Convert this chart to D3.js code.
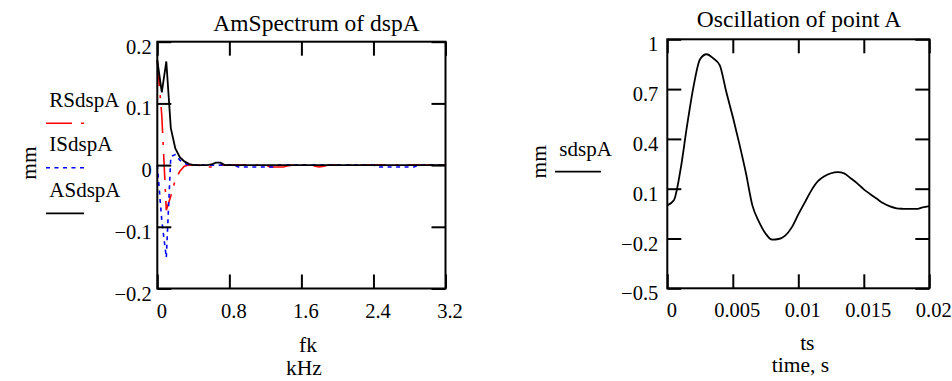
<!DOCTYPE html>
<html>
<head>
<meta charset="utf-8">
<script src="https://cdn.jsdelivr.net/npm/d3@7"></script>
<style>
  body { margin: 0; background: #fff; }
  svg { display: block; }
</style>
</head>
<body>
<svg id="chart" width="952" height="381"></svg>
<script>
// spectrum, 50 Hz steps
const fk = [0, 0.05, 0.1, 0.15, 0.2, 0.25, 0.3, 0.35, 0.4, 0.45, 0.5, 0.55, 0.6, 0.65, 0.7, 0.75,
  0.8, 0.85, 0.9, 0.95, 1, 1.05, 1.1, 1.15, 1.2, 1.25, 1.3, 1.35, 1.4, 1.45, 1.5, 1.55,
  1.6, 1.65, 1.7, 1.75, 1.8, 1.85, 1.9, 1.95, 2, 2.05, 2.1, 2.15, 2.2, 2.25, 2.3, 2.35,
  2.4, 2.45, 2.5, 2.55, 2.6, 2.65, 2.7, 2.75, 2.8, 2.85, 2.9, 2.95, 3, 3.05, 3.1, 3.15, 3.2];
const RSdspA = [0.17, 0.08, -0.073, -0.05, -0.024, -0.01, -0.002, 0, 0, 0, -0.001, -0.003, -0.003, -0.003, 0, 0,
  0, 0, 0, 0, 0, 0, 0, 0, 0, -0.003, -0.003, -0.003, -0.003, -0.001, 0, 0,
  0, 0, 0, -0.002, -0.003, -0.002, 0, 0, 0, 0, 0, 0, 0, 0, 0, 0,
  0, 0, 0, 0, 0, 0, 0, 0, 0, 0, 0, 0, 0, 0, 0, 0, 0];
const ISdspA = [0, -0.09, -0.15, 0.014, 0.017, 0.008, 0.003, 0, 0, 0, 0, 0, 0, 0, 0, 0,
  0, 0, -0.003, -0.003, -0.003, -0.003, -0.003, -0.003, -0.003, -0.003, -0.003, 0, 0, 0, 0, 0,
  0, 0, 0, 0, 0, 0, 0, 0, 0, 0, 0, 0, 0, 0, 0, 0,
  0, -0.003, -0.003, -0.003, -0.003, -0.003, -0.003, -0.003, -0.003, -0.003, 0, 0, 0, 0, 0, 0, 0];
const ASdspA = [0.17, 0.118, 0.168, 0.06, 0.027, 0.013, 0.006, 0.002, 0, 0, 0, 0, 0.001, 0.004, 0.004, 0,
  0, 0, 0, 0, 0, 0, 0, 0, 0, 0, 0, 0, 0, 0, 0, 0,
  0, 0, 0, 0, 0, 0, 0, 0, 0, 0, 0, 0, 0, 0, 0, 0,
  0, 0, 0, 0, 0, 0, 0, 0, 0, 0, 0, 0, 0, 0, 0, 0, 0];
const fkTicks = [0, 0.8, 1.6, 2.4, 3.2];
const specTicks = [-0.2, -0.1, 0, 0.1, 0.2];

// oscillation
const ts = [0, 0.0005, 0.001, 0.0015, 0.002, 0.0025, 0.003, 0.0035, 0.004, 0.0045, 0.005,
  0.0055, 0.006, 0.0065, 0.007, 0.0075, 0.008, 0.0085, 0.009, 0.0095, 0.01,
  0.0105, 0.011, 0.0115, 0.012, 0.0125, 0.013, 0.0135, 0.014, 0.0145, 0.015,
  0.0155, 0.016, 0.0165, 0.017, 0.0175, 0.018, 0.0185, 0.019, 0.0195, 0.02];
const sdspA = [0, 0.03, 0.21, 0.475, 0.715, 0.88, 0.91, 0.886, 0.845, 0.684, 0.533,
  0.37, 0.195, -0.002, -0.1, -0.17, -0.207, -0.203, -0.183, -0.133, -0.055,
  0.018, 0.09, 0.145, 0.175, 0.193, 0.2, 0.192, 0.163, 0.132, 0.096,
  0.067, 0.039, 0.012, -0.007, -0.018, -0.021, -0.022, -0.022, -0.012, -0.005];
const tsTicks = [0, 0.005, 0.01, 0.015, 0.02];
const sdspTicks = [-0.5, -0.2, 0.1, 0.4, 0.7, 1];

const serif = '"Liberation Serif"';
const svg = d3.select("#chart").attr("font-family", serif);
const fmt = d => String(d).replace("-", "\u2212");

function drawFrame(x, y, xTicks, yTicks, labelGap, xLabelY) {
  const [x0, x1] = x.range();
  const [y0, y1] = y.range();
  const g = svg.append("g");

  g.append("g").attr("transform", `translate(0,${y0})`)
    .call(d3.axisBottom(x).tickValues(xTicks).tickSize(-14).tickFormat(fmt))
    .call(a => a.selectAll("text").attr("y", xLabelY).attr("dy", null).attr("dx", 4));
  g.append("g").attr("transform", `translate(0,${y1})`)
    .call(d3.axisTop(x).tickValues(xTicks).tickSize(-14).tickFormat(""));
  g.append("g").attr("transform", `translate(${x0},0)`)
    .call(d3.axisLeft(y).tickValues(yTicks).tickSize(-14).tickFormat(fmt))
    .call(a => a.selectAll("text").attr("x", -labelGap).attr("dy", 11.5));
  g.append("g").attr("transform", `translate(${x1},0)`)
    .call(d3.axisRight(y).tickValues(yTicks).tickSize(-14).tickFormat(""));

  g.selectAll(".domain").remove();
  g.selectAll("g").attr("font-family", serif).attr("font-size", 20.5);
  g.selectAll(".tick line").attr("stroke", "#000").attr("stroke-width", 2);
  g.selectAll(".tick text").attr("fill", "#000").attr("font-family", serif);

  g.append("rect")
    .attr("x", x0).attr("y", y1)
    .attr("width", x1 - x0).attr("height", y0 - y1)
    .attr("fill", "none").attr("stroke", "#000").attr("stroke-width", 2);
}

function label(txt, x, y, size, anchor, rotate) {
  const t = svg.append("text")
    .attr("font-family", serif)
    .attr("font-size", size)
    .attr("text-anchor", anchor || "middle")
    .attr("fill", "#000")
    .text(txt);
  if (rotate) t.attr("transform", `translate(${x},${y}) rotate(-90)`);
  else t.attr("x", x).attr("y", y);
}

// ---- left: AmSpectrum of dspA ----
const xS = d3.scaleLinear().domain([0, 3.2]).range([157.3, 445.5]);
const yS = d3.scaleLinear().domain([-0.2, 0.2]).range([288.5, 41.7]);

const specSeries = [
  { name: "RSdspA", values: RSdspA, color: "#ff0000", dash: "26,9,3,9", width: 1.6 },
  { name: "ISdspA", values: ISdspA, color: "#0000ff", dash: "4,4.5", width: 1.6 },
  { name: "ASdspA", values: ASdspA, color: "#000000", dash: null, width: 1.8 }
];

specSeries.forEach(s => {
  svg.append("path")
    .datum(fk.map((f, i) => [f, s.values[i]]))
    .attr("fill", "none")
    .attr("stroke", s.color)
    .attr("stroke-width", s.width)
    .attr("stroke-dasharray", s.dash)
    .attr("d", d3.line().x(d => xS(d[0])).y(d => yS(d[1])));
});

drawFrame(xS, yS, fkTicks, specTicks, 5.6, 29.5);

label("AmSpectrum of dspA", 316.5, 30.5, 23.5);
label("fk", 308, 351.5, 21.5);
label("kHz", 304, 375, 21.5);
label("mm", 36, 163, 21.5, "middle", true);

// legend
specSeries.forEach((s, i) => {
  const ty = [106.7, 151, 196.7][i];
  const ly = [123.3, 167.7, 213.3][i];
  label(s.name, 49.3, ty, 21, "start");
  svg.append("line")
    .attr("x1", 46).attr("x2", 84).attr("y1", ly).attr("y2", ly)
    .attr("stroke", s.color).attr("stroke-width", s.width)
    .attr("stroke-dasharray", s.dash);
});

// ---- right: Oscillation of point A ----
const xT = d3.scaleLinear().domain([0, 0.02]).range([667.3, 929.3]);
const yT = d3.scaleLinear().domain([-0.5, 1]).range([288.3, 39.3]);

svg.append("path")
  .datum(ts.map((t, i) => [t, sdspA[i]]))
  .attr("fill", "none")
  .attr("stroke", "#000")
  .attr("stroke-width", 1.8)
  .attr("d", d3.line().curve(d3.curveMonotoneX).x(d => xT(d[0])).y(d => yT(d[1])));

drawFrame(xT, yT, tsTicks, sdspTicks, 9, 28.4);

label("Oscillation of point A", 799, 26.7, 23.5);
label("ts", 807.3, 350, 21.5);
label("time, s", 800.5, 372, 21.5);
label("mm", 546, 161.7, 21.5, "middle", true);
label("sdspA", 559.3, 156, 21, "start");
svg.append("line")
  .attr("x1", 555).attr("x2", 601).attr("y1", 171.7).attr("y2", 171.7)
  .attr("stroke", "#000").attr("stroke-width", 1.8);
</script>
</body>
</html>
